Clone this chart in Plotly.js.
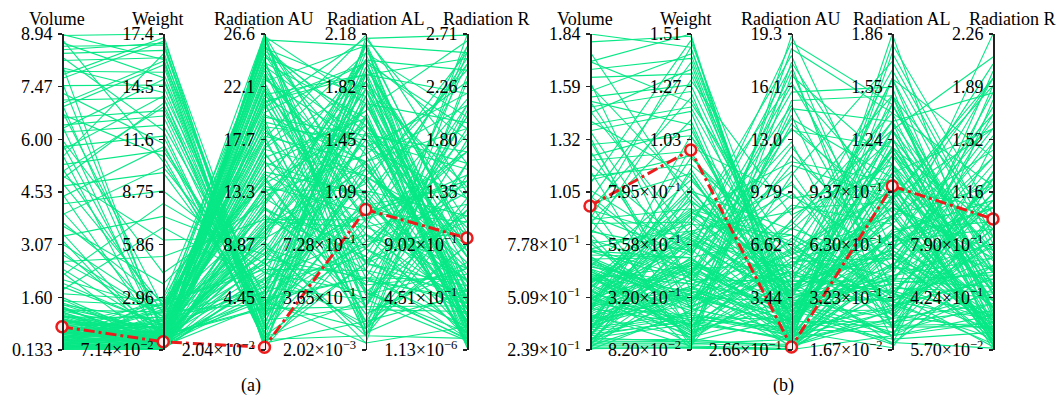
<!DOCTYPE html>
<html>
<head>
<meta charset="utf-8">
<script src="https://cdn.plot.ly/plotly-3.0.1.min.js"></script>
<style>html,body{margin:0;padding:0;background:#fff;}#chart{width:1060px;height:395px;}</style>
</head>
<body>
<div id="chart"></div>
<script>
// ---------- dimension names ----------
const dimNames = ['Volume', 'Weight', 'Radiation AU', 'Radiation AL', 'Radiation R'];

// ---------- panel (a): axis ranges and tick labels ----------
const minA = [0.133, 0.0714, 0.0204, 0.00202, 0.00000113];
const maxA = [8.94, 17.4, 26.6, 2.18, 2.71];
const tickVolA = ['0.133', '1.60', '3.07', '4.53', '6.00', '7.47', '8.94'];
const tickWA   = ['7.14×10<sup>−2</sup>', '2.96', '5.86', '8.75', '11.6', '14.5', '17.4'];
const tickAUA  = ['2.04×10<sup>−2</sup>', '4.45', '8.87', '13.3', '17.7', '22.1', '26.6'];
const tickALA  = ['2.02×10<sup>−3</sup>', '3.65×10<sup>−1</sup>', '7.28×10<sup>−1</sup>', '1.09', '1.45', '1.82', '2.18'];
const tickRA   = ['1.13×10<sup>−6</sup>', '4.51×10<sup>−1</sup>', '9.02×10<sup>−1</sup>', '1.35', '1.80', '2.26', '2.71'];

// ---------- panel (b): axis ranges and tick labels ----------
const minB = [0.239, 0.082, 0.266, 0.0167, 0.057];
const maxB = [1.84, 1.51, 19.3, 1.86, 2.26];
const tickVolB = ['2.39×10<sup>−1</sup>', '5.09×10<sup>−1</sup>', '7.78×10<sup>−1</sup>', '1.05', '1.32', '1.59', '1.84'];
const tickWB   = ['8.20×10<sup>−2</sup>', '3.20×10<sup>−1</sup>', '5.58×10<sup>−1</sup>', '7.95×10<sup>−1</sup>', '1.03', '1.27', '1.51'];
const tickAUB  = ['2.66×10<sup>−1</sup>', '3.44', '6.62', '9.79', '13.0', '16.1', '19.3'];
const tickALB  = ['1.67×10<sup>−2</sup>', '3.23×10<sup>−1</sup>', '6.30×10<sup>−1</sup>', '9.37×10<sup>−1</sup>', '1.24', '1.55', '1.86'];
const tickRB   = ['5.70×10<sup>−2</sup>', '4.24×10<sup>−1</sup>', '7.90×10<sup>−1</sup>', '1.16', '1.52', '1.89', '2.26'];

// ---------- panel (a): candidate designs ----------
const volA = [8.9,8.6,8.2,7.9,7.5,7.1,6.6,6.2,5.8,5.3,
  8.8,4.7,8.4,7.7,6.9,8.0,6.4,5.5,4.9,7.3,
  3.9,8.7,4.2,3.3,5.0,2.6,6.0,2.2,3.6,1.8,
  0.2,0.4,0.6,0.3,0.8,1.0,1.3,0.5,0.9,1.5,
  0.25,1.1,0.7,1.7,0.35,2.0,0.45,1.2,2.4,0.15,
  0.55,1.4,2.8,0.65,3.1,0.2,0.5,0.95,1.6,0.3,
  3.4,4.0,2.9,5.6,6.8,7.6,4.5,3.7,5.9,8.1,
  2.3,0.14,0.4,0.75,1.05,0.28,0.6,1.9,0.18,1.25,
  0.5,0.22,0.85,1.35,0.38,0.7,2.1,1.55,0.45,0.16,
  8.5,7.0,6.3,5.1,8.3,7.8,4.4,6.7,5.7,8.93,
  0.14,0.2,0.3,0.42,0.55,0.68,0.8,0.95,1.1,1.3,
  0.17,0.26,0.38,0.5,0.62,0.74,0.88,1.02,1.18,1.45,
  0.15,0.24,0.33,0.46,0.58,0.7,0.84,0.98,1.22,1.4,
  0.19,0.29,0.4,0.52,0.66,0.78,0.92,1.08,2.6,3.2,
  0.16,0.31,0.44,0.6,0.72,0.86,1.0,1.15,4.8,6.4,
  0.21,0.36,0.48,0.64,0.76,0.9,1.06,1.28,7.0,5.2];
const wA = [17.4,16.8,16.1,15.3,14.6,13.9,13.2,12.4,11.8,11.0,
  10.4,9.8,16.5,17.0,15.7,14.2,12.9,16.3,13.6,11.4,
  10.1,15.0,8.8,7.4,6.1,5.2,4.3,8.1,3.7,6.8,
  0.3,0.6,0.9,1.2,1.5,0.2,0.5,1.8,2.1,2.5,
  0.1,0.4,1.0,2.8,0.7,1.4,2.3,0.15,1.1,1.7,
  2.6,0.8,1.9,0.35,2.2,3.0,0.25,1.3,0.55,2.0,
  0.45,1.6,0.9,0.3,2.4,1.0,0.65,2.7,1.25,0.75,
  0.2,1.55,2.45,0.08,1.85,0.95,2.9,1.45,0.6,2.15,
  1.15,0.4,2.65,0.12,1.75,0.85,2.35,0.3,2.2,0.95,
  16.9,15.9,14.9,13.4,12.1,17.2,11.2,10.7,14.0,16.0,
  0.1,0.35,0.6,0.85,1.1,0.2,0.45,0.7,0.95,1.2,
  0.08,0.3,0.55,0.8,1.05,1.3,0.15,0.4,0.65,0.9,
  0.25,0.5,0.75,1.0,0.12,0.38,0.62,0.88,1.15,1.6,
  0.18,0.42,0.68,0.92,1.4,0.28,0.52,0.78,1.9,0.22,
  0.1,0.33,0.58,0.82,1.08,1.35,0.2,0.48,2.5,0.6,
  0.14,0.4,0.66,0.9,1.2,1.5,0.3,0.56,1.0,2.1];
const auA = [0.4,1.2,0.8,2.1,1.6,3.0,2.5,3.8,1.0,4.2,
  2.8,3.4,0.2,1.8,0.6,4.4,1.4,3.2,2.3,0.9,
  5.0,2.7,6.5,8.0,9.5,11.0,12.5,7.3,14.0,5.6,
  26.4,25.8,26.1,24.9,23.5,22.8,21.5,20.6,19.4,18.3,
  17.2,16.5,15.4,14.6,13.5,12.2,11.4,10.3,9.1,8.0,
  7.2,6.1,5.3,4.6,3.9,25.0,26.6,24.2,22.0,20.0,
  26.0,23.9,19.0,25.4,21.2,17.8,15.9,13.0,10.8,9.6,
  7.7,16.9,14.2,12.0,10.0,21.9,18.8,24.5,23.0,20.9,
  11.8,8.5,6.8,5.9,4.9,3.5,18.0,13.8,9.0,22.5,
  1.1,0.3,2.0,3.6,0.7,2.9,4.0,1.5,0.5,3.3,
  26.5,25.2,24.0,22.6,21.0,19.8,18.6,17.0,15.8,14.4,
  13.2,12.0,10.6,9.4,8.2,7.0,6.0,5.0,4.2,3.6,
  26.2,24.6,23.2,21.8,20.4,19.2,17.6,16.2,14.8,13.6,
  12.4,11.2,10.0,8.8,7.6,6.4,5.4,4.4,25.6,22.2,
  26.3,25.5,23.7,20.8,18.0,15.0,12.8,10.4,24.4,21.4,
  9.8,8.6,7.4,6.6,5.6,4.8,3.8,16.6,19.6,26.55];
const alA = [1.9,0.6,1.4,2.1,0.9,1.6,0.3,1.2,1.8,0.5,
  1.0,2.0,0.8,1.3,0.2,1.7,2.15,0.7,1.5,0.1,
  1.1,1.95,0.4,1.3,1.8,0.9,2.0,0.15,1.55,0.65,
  1.7,0.3,2.1,1.0,0.5,1.4,1.9,0.8,0.1,1.2,
  2.05,0.6,1.65,0.25,1.1,1.85,0.45,1.3,0.05,1.75,
  0.95,2.12,0.35,1.5,0.75,1.25,0.15,1.6,0.55,1.98,
  1.05,1.45,0.2,1.8,0.7,2.17,0.4,1.35,0.85,1.7,
  0.5,1.2,2.0,0.3,1.55,0.9,1.45,0.1,1.15,1.9,
  0.7,1.6,0.55,1.0,1.85,0.3,1.3,0.95,2.1,0.6,
  0.35,1.75,1.05,2.0,0.6,1.25,0.15,1.9,0.85,1.5,
  0.4,1.55,0.9,2.1,0.15,1.3,0.7,1.85,1.05,0.25,
  1.65,0.55,2.0,1.15,0.35,1.45,0.8,1.95,0.05,1.2,
  0.6,1.75,1.0,0.3,2.15,1.4,0.45,1.6,0.85,0.2,
  1.9,0.65,1.25,0.1,1.7,0.95,2.05,0.5,1.35,0.75,
  0.28,1.5,0.88,1.98,0.12,1.08,0.62,1.8,0.38,1.28,
  2.1,0.48,1.62,0.18,1.18,0.72,1.92,0.42,1.48,0.98];
const rA = [2.5,1.1,2.2,0.4,1.7,0.2,2.6,0.9,1.4,2.0,
  0.6,2.4,0.1,1.9,1.3,0.8,2.7,0.3,1.6,2.3,
  0.5,1.0,1.2,2.1,0.7,1.5,0.35,2.55,1.05,0.15,
  0.4,1.8,0.9,2.5,0.2,1.3,2.2,0.6,1.6,0.1,
  2.0,0.45,2.65,0.75,1.15,0.3,1.9,0.55,2.35,0.05,
  1.45,0.85,2.1,0.25,1.7,0.65,1.25,0.1,2.45,0.95,
  0.35,1.55,2.7,0.5,1.85,1.35,0.15,2.3,0.7,1.95,
  0.4,1.0,0.2,1.6,0.9,2.15,0.45,1.2,2.55,0.3,
  1.75,0.6,0.1,1.4,0.8,2.05,0.05,1.1,0.5,1.45,
  1.2,0.45,2.45,0.15,2.0,0.7,1.5,0.3,2.6,0.9,
  0.1,0.35,0.6,0.2,0.9,0.05,0.45,1.3,0.25,0.7,
  0.15,0.5,1.8,0.3,0.08,0.85,0.4,1.1,0.2,2.4,
  0.55,0.12,0.95,0.38,1.6,0.03,0.65,0.22,1.25,0.48,
  0.18,2.1,0.75,0.1,0.42,1.45,0.28,0.6,0.06,1.0,
  0.33,0.8,0.14,1.9,0.52,0.24,1.15,0.02,0.7,0.36,
  2.55,0.44,0.16,0.9,0.3,1.35,0.58,0.09,1.7,0.26];
const bestA = [0.78, 0.52, 0.25, 0.97, 0.96];

// ---------- panel (b): candidate designs ----------
const volB = [1.84,1.7,1.55,1.62,1.47,1.38,1.5,1.28,1.2,1.12,
  1.4,1.0,0.95,1.58,1.08,0.88,1.75,0.82,0.3,0.45,
  0.6,0.35,0.5,0.7,0.28,0.4,0.55,0.9,0.32,0.65,
  0.42,0.75,0.26,0.5,0.8,0.38,0.62,0.3,0.48,0.7,
  0.34,1.0,1.15,0.58,0.27,0.44,0.78,0.36,0.52,0.95,
  0.29,0.66,0.41,1.3,0.85,0.31,0.57,0.46,1.05,0.24,
  0.72,0.39,0.6,1.25,0.33,0.9,0.25,0.54,0.43,0.68,
  0.28,0.5,0.37,1.6,1.45,1.32,0.98,0.27,0.49,0.61,
  0.35,0.74,0.4,0.26,0.83,0.53,0.31,0.64,0.45,0.29,
  1.8,1.66,1.52,1.35,1.22,1.1,0.98,1.44,1.7,0.9,
  0.25,0.3,0.36,0.42,0.48,0.54,0.6,0.66,0.72,0.78,
  0.27,0.33,0.39,0.45,0.51,0.57,0.63,0.69,0.75,0.84,
  0.26,0.32,0.38,0.44,0.5,0.56,0.62,0.68,0.74,0.92,
  0.28,0.34,0.4,0.46,0.52,0.58,0.64,0.7,1.02,1.18,
  0.245,0.31,0.37,0.43,0.49,0.55,0.61,0.67,1.35,1.5,
  0.29,0.35,0.41,0.47,0.53,0.59,0.65,0.71,0.8,0.88];
const wB = [1.45,1.51,1.42,1.33,1.25,1.18,1.1,1.05,0.98,0.92,
  0.86,1.38,1.22,0.8,1.48,1.12,0.75,1.3,0.12,0.2,
  0.35,0.5,0.15,0.28,0.6,0.42,0.7,0.18,0.55,0.3,
  0.1,0.65,0.25,0.45,0.13,0.8,0.38,0.9,0.22,0.5,
  0.75,0.4,0.16,0.62,0.34,0.95,0.24,0.48,0.11,0.58,
  0.32,0.85,0.14,0.27,0.44,0.68,0.19,0.36,0.52,0.26,
  0.09,0.64,0.46,0.3,1.0,0.72,0.4,0.17,0.88,0.33,
  0.54,0.23,0.78,0.35,0.6,0.2,0.1,0.43,0.66,0.15,
  0.37,0.5,0.28,0.7,0.12,0.82,0.58,0.21,1.05,0.47,
  1.5,1.4,1.28,1.16,1.08,0.96,0.88,1.35,1.2,1.45,
  0.09,0.2,0.32,0.44,0.56,0.14,0.26,0.38,0.5,0.62,
  0.11,0.23,0.35,0.47,0.59,0.71,0.17,0.29,0.41,0.53,
  0.1,0.21,0.33,0.45,0.57,0.69,0.15,0.27,0.39,0.51,
  0.12,0.24,0.36,0.48,0.6,0.72,0.18,0.3,0.42,0.54,
  0.095,0.22,0.34,0.46,0.58,0.8,0.16,0.28,0.4,0.52,
  0.13,0.25,0.37,0.49,0.61,0.76,0.19,0.31,0.43,0.66];
const auB = [1.2,0.5,2.5,3.1,1.8,4.0,0.9,5.2,2.2,6.4,
  3.6,1.5,4.6,7.5,2.9,0.7,5.8,8.4,19.2,18.4,
  17.1,16.2,15.3,14.4,13.5,12.5,11.6,10.8,9.8,9.0,
  8.1,7.2,6.3,5.4,4.6,3.8,3.0,2.3,1.6,1.0,
  0.6,2.7,3.4,4.2,5.0,6.0,1.3,2.0,0.9,1.9,
  3.2,4.0,2.6,1.4,0.8,3.6,5.6,7.8,11.0,13.9,
  16.8,18.0,15.8,12.0,9.4,6.8,4.4,2.9,1.7,0.5,
  1.1,2.1,3.3,8.8,10.2,14.8,17.6,0.4,2.4,3.9,
  0.7,1.5,4.8,6.6,2.2,1.2,5.2,7.0,3.0,0.9,
  0.4,1.9,3.3,0.8,2.6,4.8,1.4,3.9,6.0,2.1,
  0.3,1.0,1.8,2.6,3.4,4.2,5.0,6.0,7.2,8.6,
  0.5,1.2,2.0,2.8,3.6,4.6,5.6,6.8,9.6,12.8,
  0.35,0.9,1.6,2.4,3.2,4.0,5.2,6.4,11.4,15.0,
  0.6,1.4,2.2,3.0,3.8,4.8,6.2,7.6,13.6,17.4,
  0.28,0.8,1.5,2.1,2.9,3.7,4.5,5.4,10.4,18.8,
  0.45,1.1,1.9,2.7,3.5,4.3,5.8,8.0,14.2,16.4];
const alB = [1.86,0.6,1.2,0.4,1.5,0.9,0.2,1.35,0.7,1.65,
  0.3,1.05,0.55,1.25,0.8,1.75,0.45,1.1,0.6,1.4,
  0.3,0.9,1.5,0.15,1.2,0.5,1.0,1.7,0.25,0.75,
  1.3,0.4,0.95,0.2,1.15,0.6,0.1,0.85,1.45,0.35,
  0.7,0.05,0.5,1.6,0.3,0.8,1.05,0.18,0.65,1.3,
  0.45,0.1,0.9,0.28,1.8,1.2,0.55,1.4,0.22,0.75,
  1.1,0.35,1.55,0.6,1.0,0.15,0.42,0.68,0.95,0.25,
  1.25,0.08,0.58,0.88,0.48,1.35,0.78,0.38,1.08,0.3,
  0.62,0.12,0.85,0.27,0.52,0.72,1.18,0.33,0.43,0.92,
  0.5,1.3,0.2,1.6,0.8,0.35,1.15,0.65,1.45,0.95,
  0.1,0.45,0.8,0.25,1.2,0.6,0.05,0.95,0.35,1.5,
  0.2,0.7,0.15,1.05,0.4,0.85,0.3,1.35,0.55,0.08,
  0.65,0.18,1.0,0.48,0.12,0.75,1.25,0.28,0.9,0.38,
  0.58,0.03,1.1,0.32,0.7,1.6,0.22,0.5,0.82,0.14,
  0.42,0.98,0.26,0.62,0.06,1.3,0.36,0.78,0.16,1.45,
  0.52,0.24,0.88,0.44,1.18,0.1,0.68,0.3,1.02,0.56];
const rB = [0.3,2.26,0.9,1.7,0.5,1.95,1.3,0.15,1.1,0.75,
  2.0,0.4,1.6,0.25,1.45,0.85,1.85,0.6,0.3,1.2,
  0.7,1.9,0.2,1.0,0.45,1.55,0.1,0.8,1.3,0.35,
  2.1,0.6,0.15,0.95,0.4,1.4,0.25,0.75,0.5,1.15,
  0.2,0.65,1.75,0.3,0.9,0.12,1.6,0.45,1.05,0.35,
  0.7,1.25,0.18,0.55,1.0,0.6,1.5,0.28,0.85,1.7,
  0.4,1.1,0.08,1.95,0.5,0.22,1.35,0.62,0.15,0.9,
  0.33,1.8,0.1,0.48,1.2,0.7,2.05,0.42,0.24,0.78,
  1.05,0.38,0.16,0.55,0.27,0.95,0.35,1.25,0.58,0.13,
  1.4,0.35,1.9,0.6,1.2,0.2,0.85,1.65,0.45,1.05,
  0.3,0.8,0.12,1.1,0.45,0.2,1.5,0.6,0.08,0.95,
  0.38,0.15,1.3,0.52,0.25,0.7,0.1,1.85,0.42,0.18,
  0.9,0.33,0.06,1.2,0.58,0.22,0.75,0.14,1.6,0.46,
  0.28,1.0,0.09,0.64,0.36,1.4,0.2,0.55,0.12,0.85,
  0.5,0.16,1.15,0.4,0.07,0.72,0.3,1.95,0.24,0.62,
  0.11,0.8,0.35,1.05,0.19,0.48,1.25,0.27,0.68,0.13];
const bestB = [0.969, 0.986, 0.447, 0.973, 0.971];

// ---------- drawing ----------
const W = 1060, H = 395;
const FONT = '"Liberation Serif", "Times New Roman", serif';
const GREEN = 'rgb(8,232,134)';
const RED = '#ec1c1c';
const topPx = 34, botPx = 350;
const panels = [
  {x0: 62, x1: 467, mins: minA, maxs: maxA, cols: [volA, wA, auA, alA, rA], best: bestA,
   ticks: [tickVolA, tickWA, tickAUA, tickALA, tickRA], xa: 'x', ya: 'y', label: '(a)', labelX: 251},
  {x0: 590, x1: 993, mins: minB, maxs: maxB, cols: [volB, wB, auB, alB, rB], best: bestB,
   ticks: [tickVolB, tickWB, tickAUB, tickALB, tickRB], xa: 'x2', ya: 'y2', label: '(b)', labelX: 783}
];
const titleShift = [-5, -5, -1, 10, 19];

const traces = [];
const layout = {
  width: W, height: H,
  margin: {l: 0, r: 0, t: 0, b: 0},
  paper_bgcolor: '#fff', plot_bgcolor: 'rgba(0,0,0,0)',
  showlegend: false,
  font: {family: FONT, size: 18, color: '#000'},
  annotations: []
};
const yDom = [1 - botPx / H, 1 - topPx / H];
let axisNo = 3;

panels.forEach((p, pi) => {
  const xKey = pi === 0 ? 'xaxis' : 'xaxis2';
  const yKey = pi === 0 ? 'yaxis' : 'yaxis2';
  layout[xKey] = {domain: [p.x0 / W, p.x1 / W], range: [0, 4], visible: false, fixedrange: true, anchor: p.ya};
  layout[yKey] = {domain: yDom, range: [0, 1], visible: false, fixedrange: true, anchor: p.xa};

  const norm = (v, d) => (v - p.mins[d]) / (p.maxs[d] - p.mins[d]);
  const gx = [], gy = [];
  const n = p.cols[0].length;
  for (let i = 0; i < n; i++) {
    for (let d = 0; d < 5; d++) { gx.push(d); gy.push(norm(p.cols[d][i], d)); }
    gx.push(null); gy.push(null);
  }
  traces.push({type: 'scatter', mode: 'lines', x: gx, y: gy, xaxis: p.xa, yaxis: p.ya,
    line: {color: GREEN, width: 1.1}, hoverinfo: 'skip', connectgaps: false});
  traces.push({type: 'scatter', mode: 'lines+markers', x: [0, 1, 2, 3, 4],
    y: p.best.map((v, d) => norm(v, d)), xaxis: p.xa, yaxis: p.ya, cliponaxis: false,
    line: {color: RED, width: 3, dash: '11px,4px,3px,4px'},
    marker: {symbol: 'circle', size: 11, color: 'rgba(255,235,235,1)', line: {color: RED, width: 2.5}}});

  for (let d = 0; d < 5; d++) {
    const key = 'yaxis' + axisNo;
    const id = 'y' + axisNo;
    const lo = p.mins[d], hi = p.maxs[d], span = hi - lo;
    const tv = p.ticks[d].map((_, k) => lo + span * k / 6);
    const posPx = p.x0 + (p.x1 - p.x0) * d / 4;
    layout[key] = {
      overlaying: p.ya, anchor: 'free', position: posPx / W, side: 'left',
      range: [lo - span * 1e-6, hi + span * 1e-6], autorange: false, fixedrange: true,
      tickmode: 'array', tickvals: tv, ticktext: p.ticks[d],
      ticks: 'outside', ticklen: 4, tickwidth: 1.5, tickcolor: '#222',
      showline: true, linecolor: '#222', linewidth: 1.5,
      showgrid: false, zeroline: false, ticklabelstandoff: 2,
      tickfont: {family: FONT, size: 18, color: '#000'}
    };
    traces.push({type: 'scatter', mode: 'markers', x: [], y: [], xaxis: p.xa, yaxis: id,
      hoverinfo: 'skip', showlegend: false});
    layout.annotations.push({text: dimNames[d], xref: 'paper', yref: 'paper',
      x: (posPx + titleShift[d]) / W, y: 1 - 19 / H, xanchor: 'center', yanchor: 'middle',
      showarrow: false, font: {family: FONT, size: 18, color: '#000'}});
    axisNo++;
  }
  layout.annotations.push({text: p.label, xref: 'paper', yref: 'paper',
    x: p.labelX / W, y: 1 - 385 / H, xanchor: 'center', yanchor: 'middle',
    showarrow: false, font: {family: FONT, size: 18, color: '#000'}});
});

Plotly.newPlot('chart', traces, layout, {staticPlot: true, displayModeBar: false});
</script>
</body>
</html>
